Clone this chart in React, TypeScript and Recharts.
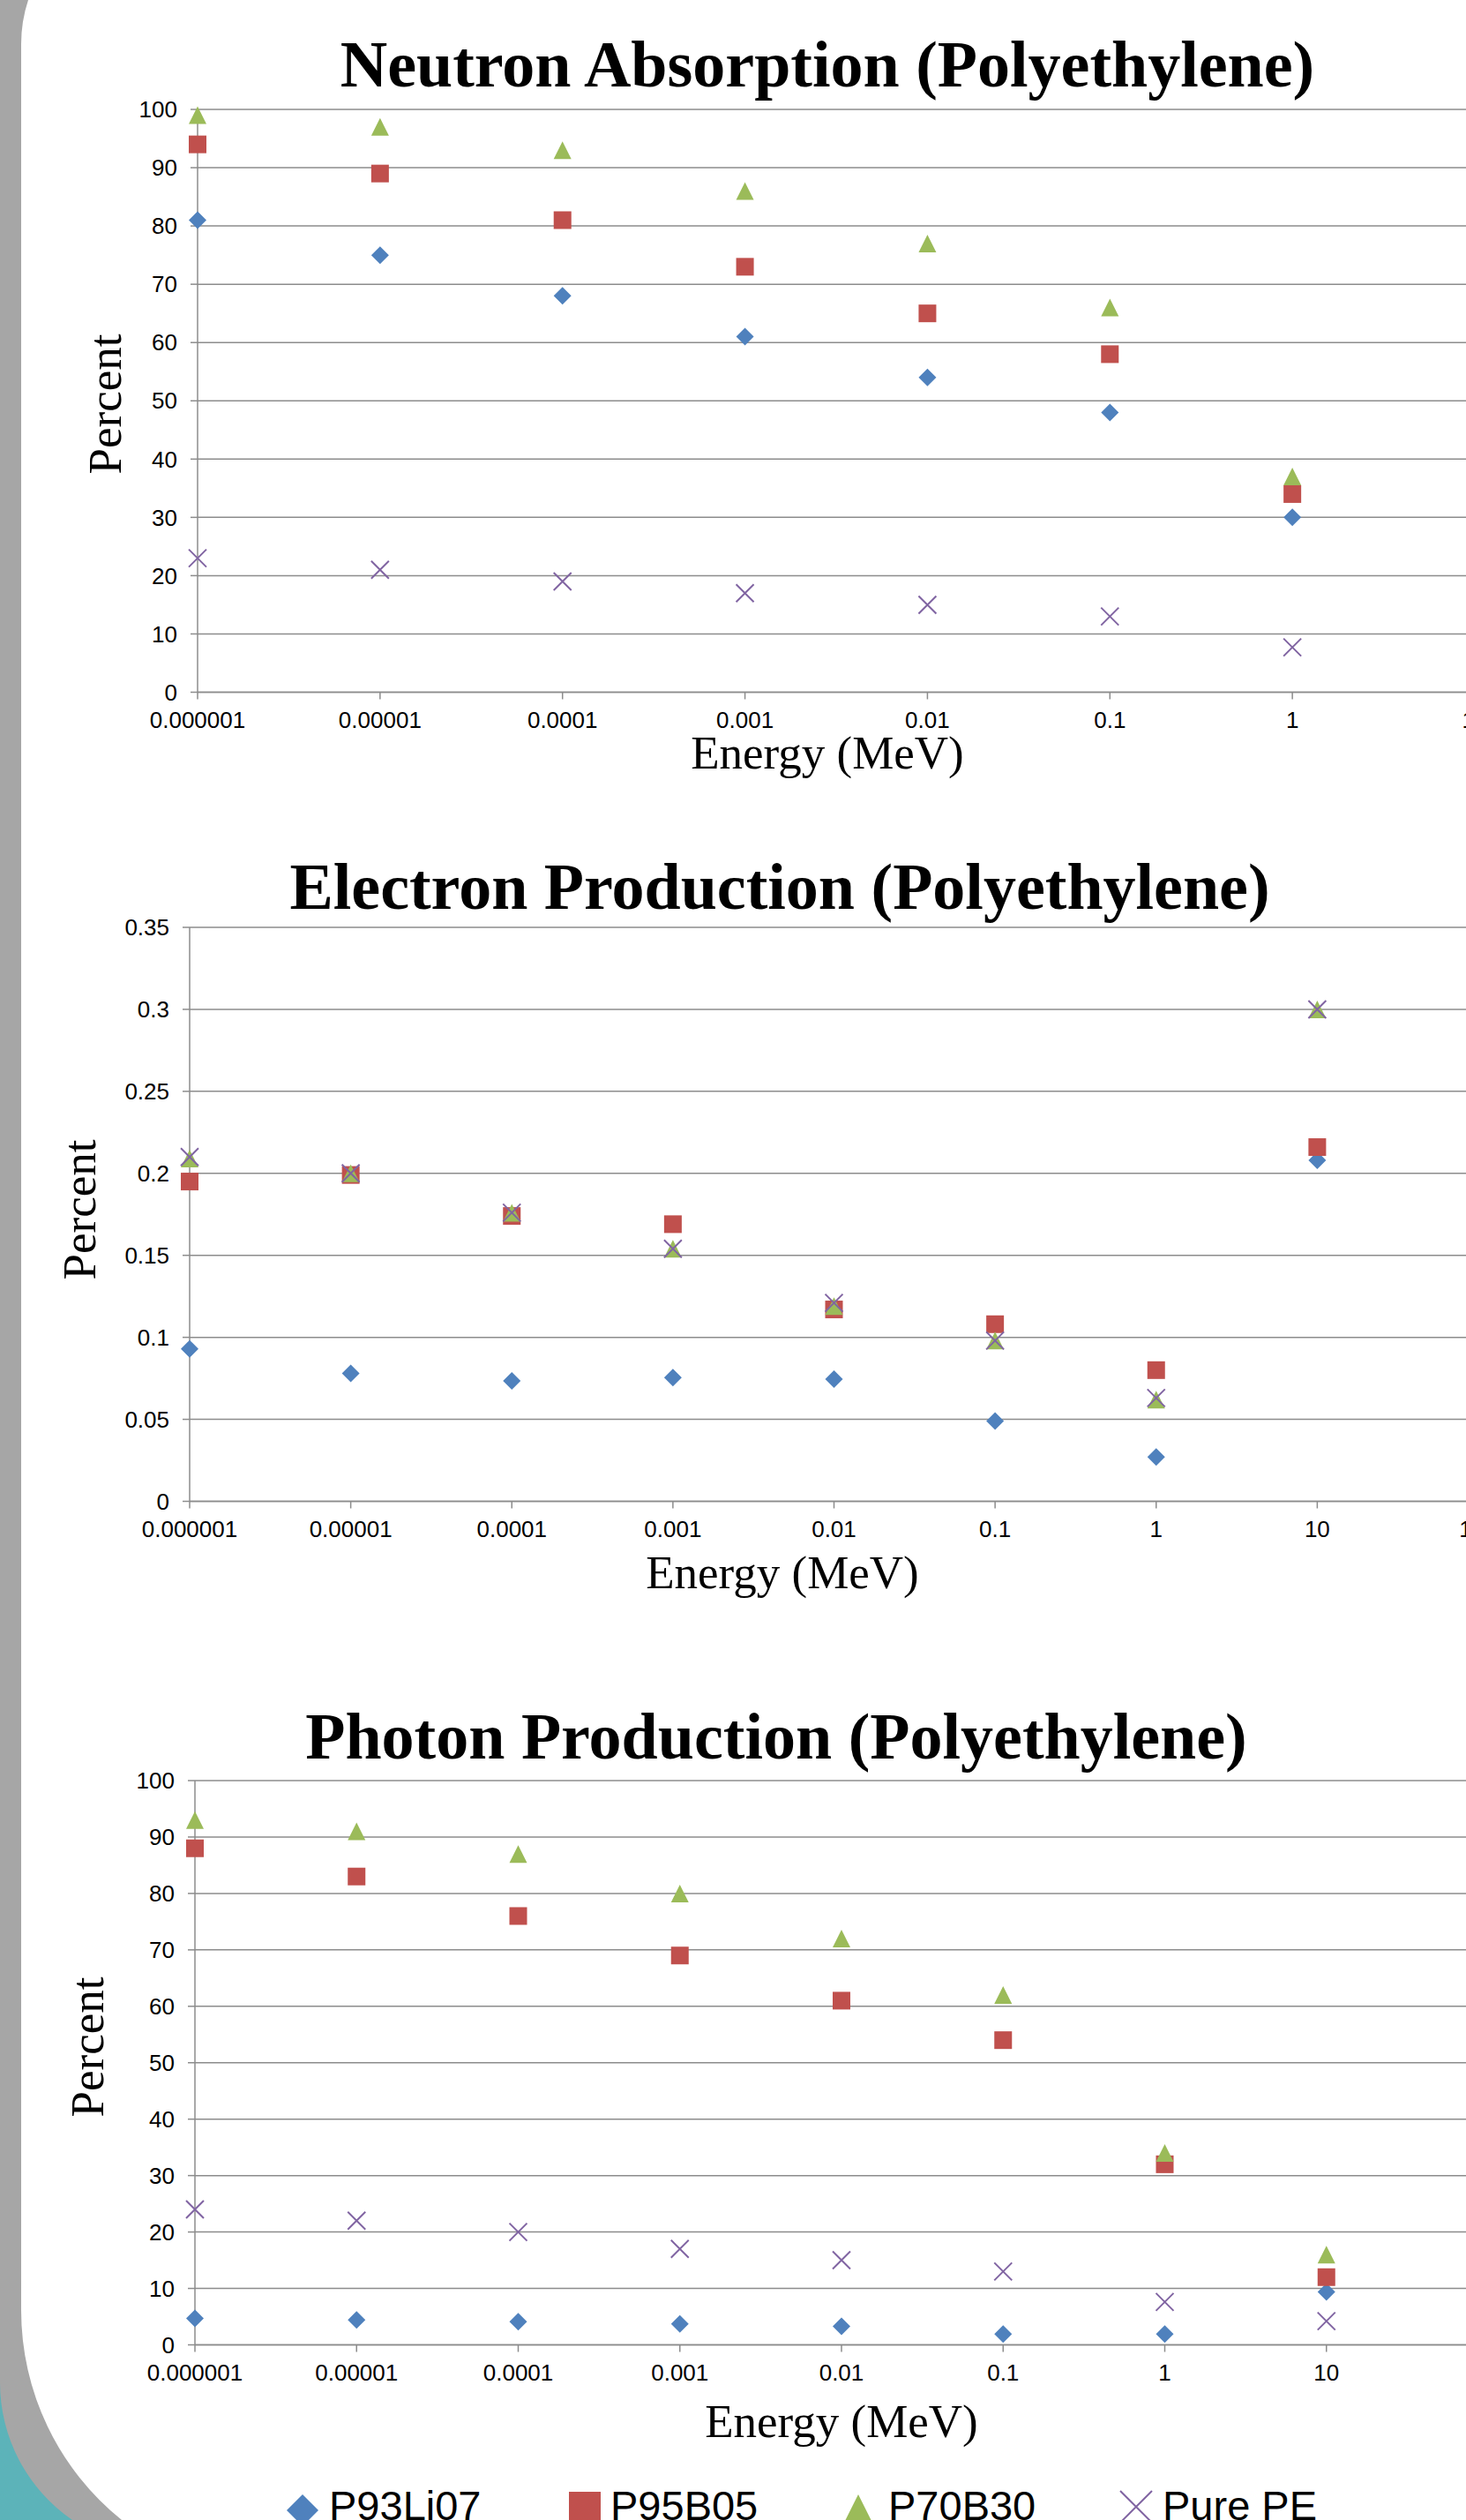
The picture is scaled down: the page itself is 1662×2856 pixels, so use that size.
import { CartesianGrid, Scatter, ScatterChart, XAxis, YAxis } from 'recharts'

const SERIES_NAMES = ['P93Li07', 'P95B05', 'P70B30', 'Pure PE']
const SERIES_COLORS = ['#4f81bd', '#c0504d', '#9bbb59', '#8064a2']

// Neutron absorption (percent)
const neutronEnergy = [0.000001, 0.00001, 0.0001, 0.001, 0.01, 0.1, 1]
const neutronP93Li07 = [81, 75, 68, 61, 54, 48, 30]
const neutronP95B05 = [94, 89, 81, 73, 65, 58, 34]
const neutronP70B30 = [99, 97, 93, 86, 77, 66, 37]
const neutronPurePE = [23, 21, 19, 17, 15, 13, 7.7]

// Electron / photon production
const productionEnergy = [0.000001, 0.00001, 0.0001, 0.001, 0.01, 0.1, 1, 10]
const electronP93Li07 = [0.093, 0.078, 0.0735, 0.0755, 0.0745, 0.049, 0.027, 0.208]
const electronP95B05 = [0.195, 0.199, 0.174, 0.169, 0.117, 0.108, 0.08, 0.216]
const electronP70B30 = [0.209, 0.2, 0.176, 0.154, 0.119, 0.098, 0.062, 0.3]
const electronPurePE = [0.21, 0.2, 0.176, 0.154, 0.121, 0.098, 0.063, 0.3]

const photonP93Li07 = [4.7, 4.4, 4.1, 3.7, 3.3, 1.9, 1.9, 9.4]
const photonP95B05 = [88, 83, 76, 69, 61, 54, 32, 12]
const photonP70B30 = [93, 91, 87, 80, 72, 62, 34, 16]
const photonPurePE = [24, 22, 20, 17, 15, 13, 7.6, 4.2]

const neutronTicks = [0.000001, 0.00001, 0.0001, 0.001, 0.01, 0.1, 1, 10]
const productionTicks = [0.000001, 0.00001, 0.0001, 0.001, 0.01, 0.1, 1, 10, 100]
const percentTicks = [0, 10, 20, 30, 40, 50, 60, 70, 80, 90, 100]
const electronTicks = [0, 0.05, 0.1, 0.15, 0.2, 0.25, 0.3, 0.35]

const GRID = '#8c8c8c'
const SANS = "'Liberation Sans', Arial, sans-serif"
const SERIF = "'Liberation Serif', 'Times New Roman', serif"

function Marker({ cx, cy, kind, r }: { cx: number; cy: number; kind: number; r: number }) {
  const color = SERIES_COLORS[kind]
  if (kind === 0) {
    return <polygon points={`${cx},${cy - r} ${cx + r},${cy} ${cx},${cy + r} ${cx - r},${cy}`} fill={color} />
  }
  if (kind === 1) {
    return <rect x={cx - r} y={cy - r} width={2 * r} height={2 * r} fill={color} />
  }
  if (kind === 2) {
    return <polygon points={`${cx},${cy - r} ${cx + r},${cy + r} ${cx - r},${cy + r}`} fill={color} />
  }
  return (
    <path
      d={`M${cx - r},${cy - r}L${cx + r},${cy + r}M${cx + r},${cy - r}L${cx - r},${cy + r}`}
      stroke={color}
      strokeWidth={2}
      fill="none"
    />
  )
}

type ChartProps = {
  plotTop: number
  plotBottom: number
  axisX: number
  plotRight: number
  energy: number[]
  values: number[][]
  xTicks: number[]
  yTicks: number[]
}

function EnergyChart({ plotTop, plotBottom, axisX, plotRight, energy, values, xTicks, yTicks }: ChartProps) {
  const top = plotTop - 30
  const height = plotBottom - top + 70
  const width = 1720
  const tickStyle = { fill: '#000', fontSize: 26, fontFamily: SANS }

  return (
    <div style={{ position: 'absolute', left: 0, top }}>
      <ScatterChart
        width={width}
        height={height}
        margin={{ top: plotTop - top, right: width - plotRight, bottom: 0, left: 0 }}
      >
        <CartesianGrid vertical={false} stroke={GRID} strokeWidth={1.5} />
        <XAxis
          type="number"
          dataKey="x"
          scale="log"
          domain={[xTicks[0], xTicks[xTicks.length - 1]]}
          ticks={xTicks}
          interval={0}
          height={height - (plotBottom - top)}
          tickFormatter={(v) => String(v)}
          tick={tickStyle}
          tickSize={8}
          tickMargin={14}
          axisLine={{ stroke: GRID, strokeWidth: 1.5 }}
          tickLine={{ stroke: GRID, strokeWidth: 1.5 }}
        />
        <YAxis
          type="number"
          dataKey="y"
          domain={[0, yTicks[yTicks.length - 1]]}
          ticks={yTicks}
          interval={0}
          width={axisX}
          tick={tickStyle}
          tickSize={8}
          tickMargin={15}
          axisLine={{ stroke: GRID, strokeWidth: 1.5 }}
          tickLine={{ stroke: GRID, strokeWidth: 1.5 }}
        />
        {values.map((ys, i) => (
          <Scatter
            key={SERIES_NAMES[i]}
            name={SERIES_NAMES[i]}
            data={energy.map((x, j) => ({ x, y: ys[j] }))}
            shape={(p: any) => <Marker cx={p.cx} cy={p.cy} kind={i} r={10} />}
            isAnimationActive={false}
          />
        ))}
      </ScatterChart>
    </div>
  )
}

function Title({ x, y, text }: { x: number; y: number; text: string }) {
  return (
    <text x={x} y={y} textAnchor="middle" fontFamily={SERIF} fontWeight="bold" fontSize={74} fill="#000">
      {text}
    </text>
  )
}

function XTitle({ x, y }: { x: number; y: number }) {
  return (
    <text x={x} y={y} textAnchor="middle" fontFamily={SERIF} fontSize={53} fill="#000">
      Energy (MeV)
    </text>
  )
}

function YTitle({ x, y }: { x: number; y: number }) {
  return (
    <text
      transform={`translate(${x},${y}) rotate(-90)`}
      textAnchor="middle"
      fontFamily={SERIF}
      fontSize={53}
      fill="#000"
    >
      Percent
    </text>
  )
}

const legendMarkerX = [343, 663, 973, 1288]
const legendTextX = [373, 692, 1007, 1318]

export default function App() {
  return (
    <div
      style={{
        position: 'absolute',
        left: 0,
        top: 0,
        width: 1662,
        height: 2856,
        overflow: 'hidden',
        background: '#fff'
      }}
    >
      <svg width={1662} height={2856} style={{ position: 'absolute', left: 0, top: 0 }}>
        <path d="M0,0 L32,0 A160,160 0 0,0 24,50 L24,2618 A305,305 0 0,0 138,2856 L0,2856 Z" fill="#a6a6a6" />
        <path d="M0,2700 A189,189 0 0,0 82,2856 L0,2856 Z" fill="#5cb3b9" />
      </svg>

      <EnergyChart
        plotTop={124}
        plotBottom={784.5}
        axisX={224}
        plotRight={1672}
        energy={neutronEnergy}
        values={[neutronP93Li07, neutronP95B05, neutronP70B30, neutronPurePE]}
        xTicks={neutronTicks}
        yTicks={percentTicks}
      />
      <EnergyChart
        plotTop={1051}
        plotBottom={1701.5}
        axisX={215}
        plotRight={1676}
        energy={productionEnergy}
        values={[electronP93Li07, electronP95B05, electronP70B30, electronPurePE]}
        xTicks={productionTicks}
        yTicks={electronTicks}
      />
      <EnergyChart
        plotTop={2018}
        plotBottom={2657.5}
        axisX={221}
        plotRight={1687}
        energy={productionEnergy}
        values={[photonP93Li07, photonP95B05, photonP70B30, photonPurePE]}
        xTicks={productionTicks}
        yTicks={percentTicks}
      />

      <svg width={1662} height={2856} style={{ position: 'absolute', left: 0, top: 0, pointerEvents: 'none' }}>
        <Title x={938} y={98} text="Neutron Absorption (Polyethylene)" />
        <Title x={884} y={1030} text="Electron Production (Polyethylene)" />
        <Title x={880} y={1993} text="Photon Production (Polyethylene)" />
        <XTitle x={938} y={871} />
        <XTitle x={887} y={1800} />
        <XTitle x={954} y={2762} />
        <YTitle x={137} y={458} />
        <YTitle x={108} y={1371} />
        <YTitle x={117} y={2320} />
        {SERIES_NAMES.map((name, i) => (
          <g key={name}>
            <Marker cx={legendMarkerX[i]} cy={i === 1 ? 2842 : i === 3 ? 2841 : 2845} kind={i} r={18} />
            <text x={legendTextX[i]} y={2856} fontFamily={SANS} fontSize={47} fill="#000">
              {name}
            </text>
          </g>
        ))}
      </svg>
    </div>
  )
}
